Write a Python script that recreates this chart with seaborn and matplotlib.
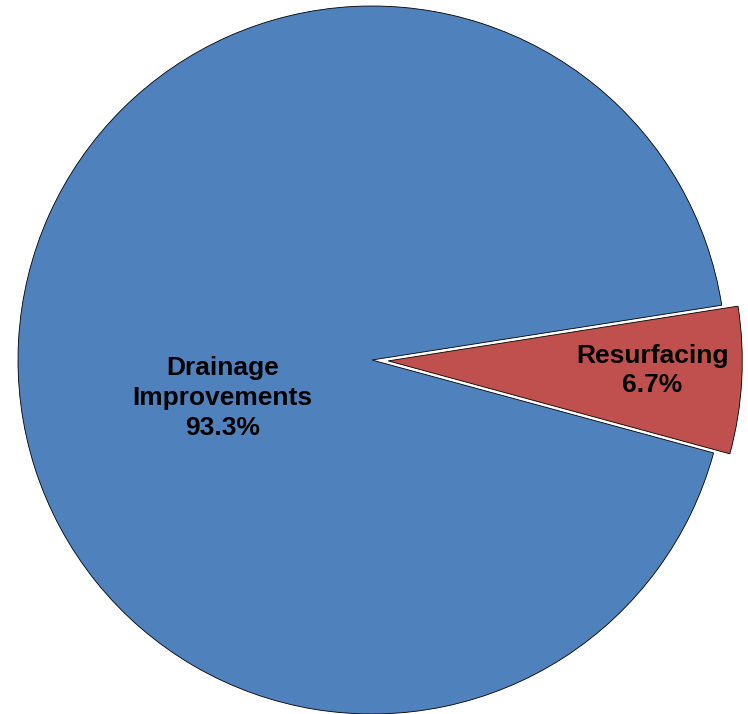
import matplotlib
matplotlib.use("Agg")
import matplotlib.pyplot as plt
import seaborn as sns

# data
categories = ["Drainage\nImprovements", "Resurfacing"]
shares = [93.3, 6.7]
colors = ["#4F81BD", "#C0504D"]
explode = [0, 0.046]

sns.set_theme(style="white")
plt.rcParams['font.family'] = ['Liberation Sans', 'DejaVu Sans']

fig = plt.figure(figsize=(7.48, 7.14), dpi=100)
ax = fig.add_axes([0, 0, 1, 1])

wedges, _ = ax.pie(shares, colors=sns.color_palette(colors), explode=explode,
                   startangle=8.9, counterclock=True, radius=1.0,
                   wedgeprops=dict(edgecolor="black", linewidth=0.6))

# labels (name + percent), placed like the original
label_pos = [(-0.422, -0.107), (0.791, -0.030)]
for name, val, (x, y) in zip(categories, shares, label_pos):
    ax.text(x, y, f"{name}\n{val:.1f}%", ha="center", va="center",
            fontsize=19, fontweight="bold", color="black", linespacing=1.3)

ax.set_xlim(-372 / 354, (748 - 372) / 354)
ax.set_ylim(-354 / 354, (714 - 354) / 354)
ax.set_aspect("auto")
ax.axis("off")

fig.savefig("out.png", dpi=100, facecolor="white")
